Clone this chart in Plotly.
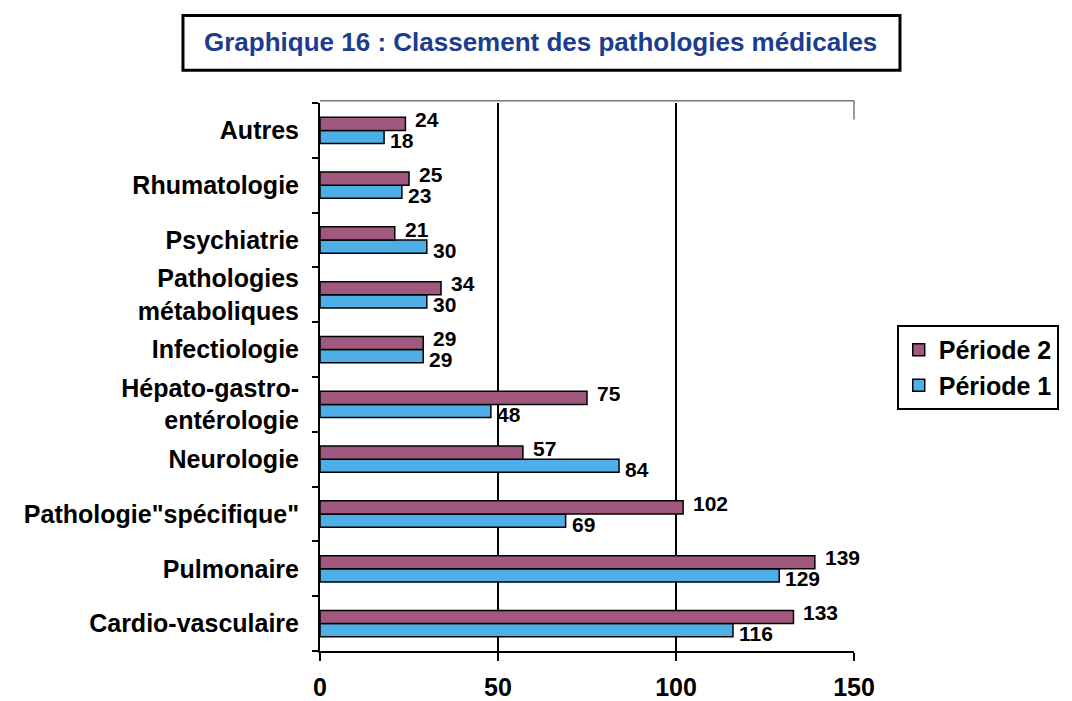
import plotly.graph_objects as go

categories = ["Cardio-vasculaire", "Pulmonaire", "Pathologie\"spécifique\"", "Neurologie",
              "Hépato-gastro-<br>entérologie", "Infectiologie", "Pathologies<br>métaboliques",
              "Psychiatrie", "Rhumatologie", "Autres"]
periode1 = [116, 129, 69, 84, 48, 29, 30, 30, 23, 18]
periode2 = [133, 139, 102, 57, 75, 29, 34, 21, 25, 24]
x_ticks = [0, 50, 100, 150]

FONT = "Liberation Sans, Arial, sans-serif"
C_P1 = "#4DAFE5"
C_P2 = "#A0587F"

fig = go.Figure()
fig.add_trace(go.Bar(name="<b>Période 1</b>", y=categories, x=periode1, orientation="h",
                     marker=dict(color=C_P1, line=dict(color="black", width=1.5))))
fig.add_trace(go.Bar(name="<b>Période 2</b>", y=categories, x=periode2, orientation="h",
                     marker=dict(color=C_P2, line=dict(color="black", width=1.5))))

annotations = []
for cat, v in zip(categories, periode2):
    annotations.append(dict(x=v, y=cat, xref="x", yref="y", text=f"<b>{v}</b>", showarrow=False,
                            xanchor="left", yanchor="middle", xshift=8, yshift=11,
                            font=dict(family=FONT, size=21, color="black")))
for cat, v in zip(categories, periode1):
    annotations.append(dict(x=v, y=cat, xref="x", yref="y", text=f"<b>{v}</b>", showarrow=False,
                            xanchor="left", yanchor="middle", xshift=4, yshift=-10,
                            font=dict(family=FONT, size=21, color="black")))

# title box
annotations.append(dict(x=0.412, y=1.111, xref="paper", yref="paper",
                        text="<b>Graphique 16 : Classement des pathologies médicales</b>",
                        showarrow=False, xanchor="center", yanchor="middle",
                        font=dict(family=FONT, size=26, color="#1D3C8F")))

fig.update_layout(
    width=1064, height=693,
    margin=dict(l=312, r=218, t=95, b=50),
    paper_bgcolor="white", plot_bgcolor="white",
    barmode="group", bargap=0.52, bargroupgap=0,
    font=dict(family=FONT, size=25, color="black"),
    showlegend=True,
    legend=dict(x=1.08, y=0.595, xanchor="left", yanchor="top", traceorder="reversed",
                bordercolor="black", borderwidth=2, bgcolor="white",
                font=dict(family=FONT, size=25, color="black"),
                itemwidth=30, tracegroupgap=2),
    annotations=annotations,
    shapes=[
        dict(type="rect", xref="paper", yref="paper", x0=-0.2566, x1=1.0861, y0=1.0599, y1=1.1597,
             line=dict(color="black", width=3), fillcolor="rgba(0,0,0,0)", layer="above"),
        dict(type="line", xref="paper", yref="paper", x0=0, x1=1, y0=1.004, y1=1.004,
             line=dict(color="#777777", width=1.5)),
        dict(type="line", xref="paper", yref="paper", x0=1, x1=1, y0=1.004, y1=0.97,
             line=dict(color="#777777", width=1.5)),
    ],
)

fig.update_xaxes(range=[0, 150], tickvals=x_ticks, ticktext=[f"<b>{t}</b>" for t in x_ticks],
                 showgrid=False, zeroline=False, automargin=False,
                 showline=True, linecolor="black", linewidth=2,
                 ticks="outside", ticklen=8, tickwidth=2, tickcolor="black",
                 ticklabelstandoff=5,
                 tickfont=dict(family=FONT, size=25, color="black"),
                 minor=dict(tickvals=[50, 100], showgrid=True, gridcolor="black", gridwidth=1.5, ticks=""))
fig.update_yaxes(tickvals=categories, ticktext=[f"<b>{c}</b>" for c in categories],
                 showgrid=False, zeroline=False, automargin=False,
                 showline=True, linecolor="black", linewidth=2,
                 ticks="outside", ticklen=6, tickwidth=2, tickcolor="black",
                 tickson="boundaries", ticklabelstandoff=14,
                 tickfont=dict(family=FONT, size=25, color="black"))

fig.write_html("out.html")
